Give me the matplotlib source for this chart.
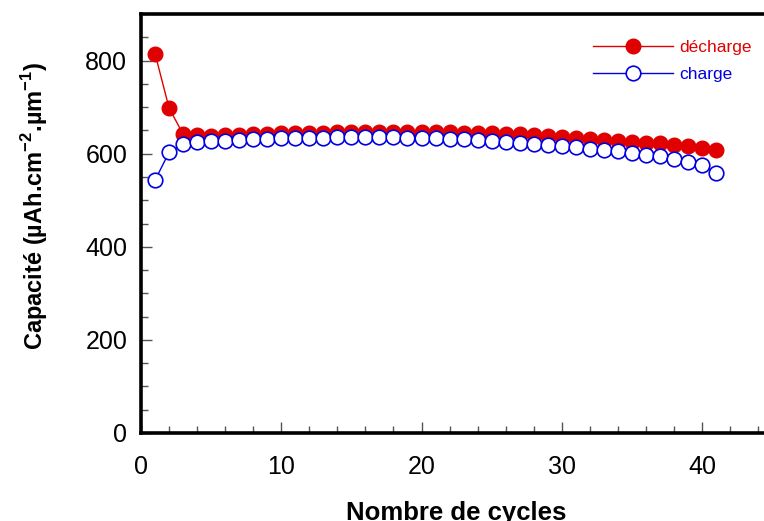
"""Capacité vs nombre de cycles (décharge / charge)."""
import matplotlib
matplotlib.use('Agg')
import matplotlib.pyplot as plt
from matplotlib.ticker import MultipleLocator

plt.rcParams['font.family'] = ['Liberation Sans', 'DejaVu Sans']
plt.rcParams['axes.unicode_minus'] = False
plt.rcParams['mathtext.fontset'] = 'custom'
plt.rcParams['mathtext.rm'] = 'Liberation Sans'
plt.rcParams['mathtext.bf'] = 'Liberation Sans:bold'

cycles = list(range(1, 42))
decharge = [815, 698, 642, 640, 639, 640, 641, 642, 643, 644, 644, 645, 645, 646,
            646, 646, 647, 647, 647, 647, 646, 646, 645, 645, 644, 643, 642, 640,
            638, 636, 634, 632, 630, 628, 626, 624, 622, 619, 616, 613, 608]
charge = [543, 603, 620, 625, 627, 628, 630, 631, 632, 633, 633, 634, 634, 635,
          635, 635, 635, 635, 634, 634, 633, 632, 631, 629, 627, 625, 623, 621,
          619, 617, 614, 611, 609, 606, 602, 598, 594, 589, 583, 576, 558]

fig = plt.figure(figsize=(7.64, 5.21), dpi=100)
ax = fig.add_axes([0.1846, 0.169, 0.826, 0.804])

ax.plot(cycles, decharge, '-o', color='#e00000', lw=1.0, ms=10.5,
        mfc='#e00000', mec='#e00000', label='décharge', zorder=3)
ax.plot(cycles, charge, '-o', color='#0000e0', lw=1.0, ms=10.5,
        mfc='white', mec='#0000e0', mew=1.2, label='charge', zorder=4)

ax.set_xlim(0, 45)
ax.set_ylim(0, 900)
ax.xaxis.set_major_locator(MultipleLocator(10))
ax.xaxis.set_minor_locator(MultipleLocator(2))
ax.yaxis.set_major_locator(MultipleLocator(200))
ax.yaxis.set_minor_locator(MultipleLocator(50))

for s in ax.spines.values():
    s.set_linewidth(2.6)
ax.tick_params(which='major', direction='in', length=8, width=1, color='#555555',
               labelsize=18, top=False, right=False)
ax.tick_params(which='minor', direction='in', length=5, width=1, color='#555555',
               top=False, right=False)
ax.tick_params(axis='x', which='major', pad=16)
ax.tick_params(axis='y', which='major', pad=10)

ax.set_xlabel('Nombre de cycles', fontsize=18.5, fontweight='bold', labelpad=16)
ax.set_ylabel(r'Capacité (µAh.cm$^{\mathbf{-2}}$.µm$^{\mathbf{-1}}$)', fontsize=17,
              fontweight='bold')
ax.yaxis.set_label_coords(-0.145, 0.542)

leg = ax.legend(loc='upper right', bbox_to_anchor=(0.993, 0.975), frameon=False,
                fontsize=12.5, handlelength=4.6, handletextpad=0.4, labelspacing=0.65)
for txt, c in zip(leg.get_texts(), ['#e00000', '#0000e0']):
    txt.set_color(c)

fig.savefig('out.png', dpi=100)
